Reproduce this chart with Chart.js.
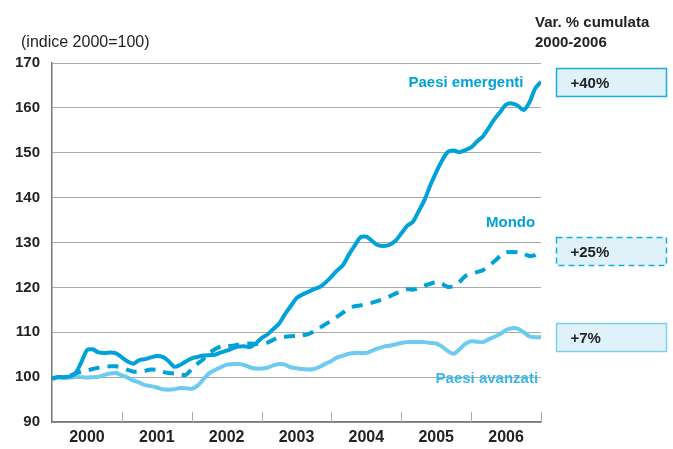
<!DOCTYPE html>
<html>
<head>
<meta charset="utf-8">
<script src="https://cdn.jsdelivr.net/npm/chart.js@4"></script>
<style>
  body { margin: 0; background: #fff; }
  #box { width: 673px; height: 449px; position: relative; }
</style>
</head>
<body>
<div id="box"><canvas id="grafico"></canvas></div>
<script>
// anni sull'asse x (etichette centrate su ogni anno)
const anni = ['2000', '2001', '2002', '2003', '2004', '2005', '2006'];

// indice 2000=100, dati mensili da gen 2000 a fine 2006
const emergenti = [
  99.6, 100, 100, 100.1, 100.8, 103.2, 106, 106.2, 105.5, 105.4, 105.5, 105.3,
  104.4, 103.5, 103, 103.8, 104, 104.4, 104.7, 104.5, 103.6, 102.3, 102.7, 103.5,
  104.2, 104.5, 104.8, 104.9, 105, 105.5, 105.9, 106.4, 106.8, 106.9, 106.7, 107.5,
  108.7, 109.5, 110.7, 111.9, 114, 115.8, 117.6, 118.4, 119, 119.6, 120.1, 121.1,
  122.4, 123.8, 125, 127.3, 129.3, 131.2, 131.3, 130.3, 129.4, 129.2, 129.5, 130.4,
  132, 133.7, 134.6, 137, 139.5, 142.8, 145.7, 148.3, 150.2, 150.5, 150.1, 150.6,
  151.2, 152.5, 153.6, 155.5, 157.5, 159.1, 160.7, 161, 160.5, 159.5, 161.2, 164.3,
  165.8
];
const mondo = [
  99.7, 100, 100, 100.3, 100.8, 101.2, 101.5, 101.8, 102.1, 102.3, 102.4, 102.4,
  102.1, 101.6, 101.2, 101.2, 101.4, 101.7, 101.6, 101.2, 100.9, 100.8, 100.6, 100.5,
  101.8, 103, 104, 105.3, 106.2, 106.8, 106.9, 107, 107.2, 107.4, 107.5, 107.4,
  107.4, 107.7, 108.3, 108.9, 109, 109.1, 109.2, 109.3, 109.6, 110.2, 111, 111.8,
  112.6, 113.5, 114.4, 115.3, 115.8, 116, 116.3, 116.6, 117, 117.4, 118, 118.6,
  119.2, 119.6, 119.5, 119.8, 120.4, 120.8, 121.2, 120.8, 120.1, 120.3, 121.2, 122.5,
  123, 123.4, 123.8, 124.8, 125.8, 127, 127.8, 127.9, 127.8, 127.5, 127, 127.2,
  128
];
const avanzati = [
  99.7, 99.9, 99.8, 99.9, 100, 100, 99.9, 100, 100.1, 100.5, 100.8, 100.9,
  100.4, 99.9, 99.2, 98.8, 98.2, 98, 97.7, 97.3, 97.2, 97.3, 97.6, 97.5,
  97.4, 98.1, 99.5, 100.9, 101.6, 102.2, 102.8, 102.9, 102.9, 102.7, 102.2, 101.9,
  101.9, 102.1, 102.6, 102.9, 102.8, 102.2, 102, 101.8, 101.7, 101.8, 102.3, 103,
  103.6, 104.4, 104.8, 105.2, 105.4, 105.4, 105.4, 105.9, 106.4, 106.8, 107, 107.3,
  107.6, 107.8, 107.8, 107.8, 107.8, 107.6, 107.5, 106.8, 105.8, 105.2, 106.2, 107.4,
  108, 107.9, 107.8, 108.4, 109, 109.6, 110.5, 110.9, 110.8, 110, 109.1, 108.9,
  108.9
];

// etichette delle serie e variazione cumulata
const nomi = ['Paesi emergenti', 'Mondo', 'Paesi avanzati'];
const variazioni = ['+40%', '+25%', '+7%'];

const scuro = '#00a2d8';
const chiaro = '#6ccbee';
const font = '"Liberation Sans", Arial, sans-serif';

const punti = arr => arr.map((v, i) => ({ x: i, y: v }));

// segni dell'anno sull'asse, etichette delle serie e riquadri a destra
const decorazioni = {
  id: 'decorazioni',
  afterDraw(chart) {
    const ctx = chart.ctx;
    const xs = chart.scales.x, ys = chart.scales.y;
    const area = chart.chartArea;
    ctx.save();

    ctx.strokeStyle = '#aaaaaa';
    ctx.lineWidth = 1;
    for (let k = 1; k <= 7; k++) {
      const px = Math.round(xs.getPixelForValue(k * 12)) + 0.5;
      ctx.beginPath();
      ctx.moveTo(px, area.bottom);
      ctx.lineTo(px, area.bottom - 10);
      ctx.stroke();
    }

    // testi in alto
    ctx.fillStyle = '#222';
    ctx.textAlign = 'left';
    ctx.textBaseline = 'alphabetic';
    ctx.font = '16px ' + font;
    ctx.fillText('(indice 2000=100)', 21, 47);
    ctx.font = 'bold 15px ' + font;
    ctx.fillText('Var. % cumulata', 535, 27);
    ctx.fillText('2000-2006', 535, 47);

    // nomi delle serie
    ctx.font = 'bold 15px ' + font;
    ctx.textAlign = 'right';
    ctx.textBaseline = 'middle';
    ctx.fillStyle = scuro;
    ctx.fillText(nomi[0], xs.getPixelForValue(81), ys.getPixelForValue(165.5));
    ctx.fillText(nomi[1], xs.getPixelForValue(83), ys.getPixelForValue(134.3));
    ctx.fillStyle = '#3bb8e6';
    ctx.fillText(nomi[2], xs.getPixelForValue(83.5), ys.getPixelForValue(99.7));

    // riquadri con la variazione, centrati sull'ultimo valore
    const ultimi = [emergenti, mondo, avanzati].map(a => a[a.length - 1]);
    const bordi = ['#14aee0', '#14aee0', '#7dd0ef'];
    ultimi.forEach((v, i) => {
      const cy = ys.getPixelForValue(v);
      const x0 = 556.5, w = 110, h = 28;
      const y0 = Math.round(cy - h / 2) + 0.5;
      ctx.fillStyle = '#dff1f9';
      ctx.fillRect(x0, y0, w, h);
      ctx.strokeStyle = bordi[i];
      ctx.lineWidth = 1.5;
      ctx.setLineDash(i === 1 ? [6, 4] : []);
      ctx.strokeRect(x0, y0, w, h);
      ctx.setLineDash([]);
      ctx.fillStyle = '#222';
      ctx.textAlign = 'left';
      ctx.font = 'bold 15px ' + font;
      ctx.fillText(variazioni[i], x0 + 14, y0 + h / 2 + 1);
    });
    ctx.restore();
  }
};

new Chart(document.getElementById('grafico'), {
  type: 'line',
  data: {
    datasets: [
      {
        label: nomi[0], data: punti(emergenti),
        borderColor: scuro, borderWidth: 4, tension: 0.25
      },
      {
        label: nomi[1], data: punti(mondo),
        borderColor: scuro, borderWidth: 4, borderDash: [11, 8], tension: 0.25
      },
      {
        label: nomi[2], data: punti(avanzati),
        borderColor: chiaro, borderWidth: 4, tension: 0.25
      }
    ]
  },
  options: {
    responsive: true,
    maintainAspectRatio: false,
    animation: false,
    events: [],
    layout: { padding: { left: 0, right: 132, top: 63, bottom: 0 } },
    elements: { point: { radius: 0 }, line: { borderCapStyle: 'butt', borderJoinStyle: 'round' } },
    plugins: { legend: { display: false }, tooltip: { enabled: false } },
    scales: {
      x: {
        type: 'linear', min: 0, max: 84,
        afterBuildTicks: s => { s.ticks = anni.map((a, i) => ({ value: i * 12 + 6 })); },
        afterFit: s => { s.height = 27; },
        ticks: {
          autoSkip: false, maxRotation: 0, padding: 6,
          color: '#222', font: { family: font, size: 16, weight: 'bold' },
          callback: (v, i) => anni[i]
        },
        grid: { display: false, drawTicks: false },
        border: { color: '#777', width: 1.5 }
      },
      y: {
        min: 90, max: 170,
        afterFit: s => { s.width = 52; },
        ticks: {
          stepSize: 10, padding: 12,
          color: '#222', font: { family: font, size: 15, weight: 'bold' }
        },
        grid: { color: '#aaaaaa', lineWidth: 1, drawTicks: false },
        border: { color: '#777', width: 1.5 }
      }
    }
  },
  plugins: [decorazioni]
});
</script>
</body>
</html>
